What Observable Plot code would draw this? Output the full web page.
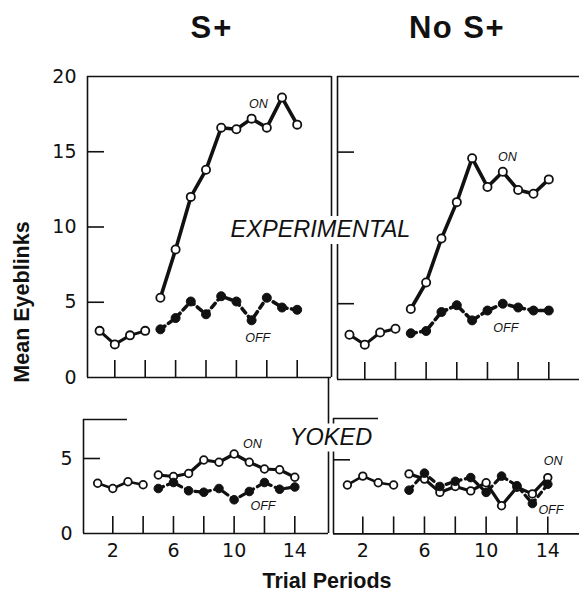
<!DOCTYPE html>
<html>
<head>
<meta charset="utf-8">
<script src="https://cdn.jsdelivr.net/npm/d3@7"></script>
<script src="https://cdn.jsdelivr.net/npm/@observablehq/plot@0.6"></script>
<style>
  html, body { margin: 0; padding: 0; background: #fff; overflow: hidden; }
  #chart { position: relative; width: 579px; height: 593px; overflow: hidden; background: #fff; }
  #chart svg { position: absolute; left: 0; top: 0; max-width: none !important; width: 590px !important; height: 593px !important; }
</style>
</head>
<body>
<div id="chart"></div>
<script>
// ---------------- data ----------------
const baselineTrials = [1, 2, 3, 4];
const testTrials = [5, 6, 7, 8, 9, 10, 11, 12, 13, 14];

const sPlusExpBaseline = [3.1, 2.2, 2.8, 3.1];
const sPlusExpOn  = [5.3, 8.5, 12.0, 13.8, 16.6, 16.5, 17.2, 16.6, 18.6, 16.8];
const sPlusExpOff = [3.2, 3.95, 5.05, 4.2, 5.4, 5.05, 3.8, 5.3, 4.65, 4.5];

const noSPlusExpBaseline = [2.95, 2.3, 3.1, 3.35];
const noSPlusExpOn  = [4.65, 6.4, 9.3, 11.7, 14.6, 12.7, 13.7, 12.5, 12.25, 13.2];
const noSPlusExpOff = [3.05, 3.2, 4.45, 4.9, 3.9, 4.55, 5.0, 4.75, 4.55, 4.55];

const sPlusYokedBaseline = [3.35, 3.0, 3.45, 3.25];
const sPlusYokedOn  = [3.9, 3.8, 4.0, 4.9, 4.75, 5.3, 4.75, 4.3, 4.25, 3.75];
const sPlusYokedOff = [3.0, 3.4, 2.85, 2.75, 3.0, 2.25, 2.8, 3.4, 2.95, 3.1];

const noSPlusYokedBaseline = [3.3, 3.9, 3.45, 3.3];
const noSPlusYokedOn  = [4.05, 3.7, 2.8, 3.2, 2.9, 3.45, 1.9, 3.15, 2.7, 3.8];
const noSPlusYokedOff = [2.95, 4.1, 3.2, 3.55, 3.8, 2.8, 3.9, 3.25, 2.05, 3.35];

const columnTitles = ["S+", "No S+"];
const rowTitles = ["EXPERIMENTAL", "YOKED"];
const yAxisTitle = "Mean Eyeblinks";
const xAxisTitle = "Trial Periods";
const expYTickLabels = [0, 5, 10, 15, 20];
const yokedYTickLabels = [0, 5];
const xTickLabels = [2, 6, 10, 14];
const xTickMarks = [2, 4, 6, 8, 10, 12, 14];

// ON / OFF curve labels: [trial, value] where each label sits
const sPlusExpLabels = [{t: "ON", x: 11.45, y: 18.2}, {t: "OFF", x: 11.4, y: 2.65}];
const noSPlusExpLabels = [{t: "ON", x: 11.3, y: 14.65}, {t: "OFF", x: 11.2, y: 3.4}];
const sPlusYokedLabels = [{t: "ON", x: 11.2, y: 6.0}, {t: "OFF", x: 11.9, y: 1.85}];
const noSPlusYokedLabels = [{t: "ON", x: 14.35, y: 4.95}, {t: "OFF", x: 14.2, y: 1.6}];

// ---------------- helpers ----------------
const rows = (xs, vs) => xs.map((x, i) => ({trial: x, value: vs[i]}));
const W = 590, H = 593;
const INK = "#111";
const NUMFONT = "DejaVu Sans, sans-serif";
const chart = document.getElementById("chart");

function makePanel(p) {
  const xs = d3.scaleLinear().domain([2, 14]).range([p.x2, p.x14]);
  const ys = d3.scaleLinear().domain([0, 5]).range([p.y0, p.y5]);
  const xL = xs.invert(p.left), xR = xs.invert(p.right), yT = ys.invert(p.top);
  const xTickEnd = xs.invert(p.left + 17);
  const yTickEnd = ys.invert(p.y0 - 17);
  const frame = {stroke: INK, strokeWidth: 1.6};
  const marks = [
    Plot.ruleY([0], {x1: xL, x2: xR, ...frame}),
    Plot.ruleX([xL], {y1: 0, y2: yT, ...frame}),
    Plot.ruleY([yT], {x1: xL, x2: p.topEnd ? xs.invert(p.topEnd) : xR, ...frame}),
    Plot.ruleY(p.yTicks, {x1: xL, x2: xTickEnd, ...frame}),
    Plot.ruleX(xTickMarks, {y1: 0, y2: yTickEnd, ...frame})
  ];
  if (p.fullRight) marks.push(Plot.ruleX([xR], {y1: 0, y2: yT, ...frame}));
  if (p.rightEdgeTop) marks.push(Plot.ruleX([xR], {y1: 0, y2: ys.invert(p.rightEdgeTop), ...frame}));
  if (p.yLabels) marks.push(Plot.axisY(p.yLabels, {tickSize: 0, tickPadding: 11, fontSize: 19, label: null, fill: INK}));
  if (p.xLabels) marks.push(Plot.axisX(p.xLabels, {tickSize: 0, tickPadding: 10, fontSize: 19, label: null, fill: INK}));

  const base = rows(baselineTrials, p.baseline);
  const on = rows(testTrials, p.on);
  const off = rows(testTrials, p.off);
  const lw = p.lineWidth;
  marks.push(
    Plot.line(base, {x: "trial", y: "value", stroke: INK, strokeWidth: lw - 0.6}),
    Plot.line(on, {x: "trial", y: "value", stroke: INK, strokeWidth: lw}),
    Plot.line(off, {x: "trial", y: "value", stroke: INK, strokeWidth: lw, strokeDasharray: "5.5,4.5"}),
    Plot.dot(base, {x: "trial", y: "value", r: p.rOpen, fill: "white", stroke: INK, strokeWidth: 1.8}),
    Plot.dot(on, {x: "trial", y: "value", r: p.rOpen, fill: "white", stroke: INK, strokeWidth: 1.8}),
    Plot.dot(off, {x: "trial", y: "value", r: p.rFill, fill: INK, stroke: INK, strokeWidth: 1}),
    Plot.text(p.labels, {x: "x", y: "y", text: "t", fontSize: 12.5, fontStyle: "italic",
      fontFamily: "Liberation Sans, Arial, sans-serif", fill: INK})
  );

  const svg = Plot.plot({
    width: W, height: H,
    marginLeft: p.left, marginRight: W - p.right,
    marginTop: p.top, marginBottom: H - p.y0,
    x: {domain: [2, 14], range: [p.x2, p.x14], axis: null},
    y: {domain: [0, 5], range: [p.y0, p.y5], axis: null},
    style: {background: "none", fontFamily: NUMFONT, overflow: "visible", maxWidth: "none"},
    marks
  });
  chart.appendChild(svg);
}

makePanel({left: 87, right: 331, top: 76, x2: 114.3, x14: 296.7, y0: 377, y5: 301.75,
  yTicks: [5, 10, 15], yLabels: expYTickLabels, fullRight: true, lineWidth: 3.6, rOpen: 4.1, rFill: 4.5,
  baseline: sPlusExpBaseline, on: sPlusExpOn, off: sPlusExpOff, labels: sPlusExpLabels});
makePanel({left: 337, right: 582, top: 76, x2: 364.3, x14: 548.3, y0: 379, y5: 303.2,
  yTicks: [5, 10, 15], fullRight: true, lineWidth: 3.6, rOpen: 4.1, rFill: 4.5,
  baseline: noSPlusExpBaseline, on: noSPlusExpOn, off: noSPlusExpOff, labels: noSPlusExpLabels});
makePanel({left: 83, right: 328, top: 419, x2: 112.3, x14: 294.3, y0: 533, y5: 458,
  yTicks: [5], yLabels: yokedYTickLabels, xLabels: xTickLabels, topEnd: 127, rightEdgeTop: 377,
  lineWidth: 3.2, rOpen: 3.8, rFill: 4.3,
  baseline: sPlusYokedBaseline, on: sPlusYokedOn, off: sPlusYokedOff, labels: sPlusYokedLabels});
makePanel({left: 333, right: 582, top: 418, x2: 362.3, x14: 547.3, y0: 533.4, y5: 459.3,
  yTicks: [5], xLabels: xTickLabels, topEnd: 378,
  lineWidth: 3.2, rOpen: 3.8, rFill: 4.3,
  baseline: noSPlusYokedBaseline, on: noSPlusYokedOn, off: noSPlusYokedOff, labels: noSPlusYokedLabels});

// ---------------- titles overlay ----------------
const ov = d3.select(chart).append("svg").attr("width", W).attr("height", H);
const bold = "Liberation Sans, Arial, sans-serif";
ov.append("text").attr("x", 212).attr("y", 37.5).attr("text-anchor", "middle")
  .attr("font-family", bold).attr("font-weight", "bold").attr("font-size", 31)
  .attr("letter-spacing", 2).attr("fill", INK).text(columnTitles[0]);
ov.append("text").attr("x", 457).attr("y", 37.5).attr("text-anchor", "middle")
  .attr("font-family", bold).attr("font-weight", "bold").attr("font-size", 31)
  .attr("letter-spacing", 1.5).attr("fill", INK).text(columnTitles[1]);
ov.append("text").attr("transform", "translate(29,302) rotate(-90)").attr("text-anchor", "middle")
  .attr("font-family", bold).attr("font-weight", "bold").attr("font-size", 21.5)
  .attr("fill", INK).text(yAxisTitle);
ov.append("text").attr("x", 327).attr("y", 587.5).attr("text-anchor", "middle")
  .attr("font-family", bold).attr("font-weight", "bold").attr("font-size", 21.5)
  .attr("fill", INK).text(xAxisTitle);

function rowTitle(txt, x, y, size) {
  const g = ov.append("g");
  const r = g.append("rect").attr("fill", "white");
  const t = g.append("text").attr("x", x).attr("y", y).attr("text-anchor", "middle")
    .attr("font-family", bold).attr("font-style", "italic").attr("font-size", size)
    .attr("fill", INK).text(txt);
  const b = t.node().getBBox();
  r.attr("x", b.x - 4).attr("y", b.y).attr("width", b.width + 8).attr("height", b.height + 2);
}
rowTitle(rowTitles[0], 320.5, 237, 23.5);
rowTitle(rowTitles[1], 331, 444.5, 23.5);
</script>
</body>
</html>
